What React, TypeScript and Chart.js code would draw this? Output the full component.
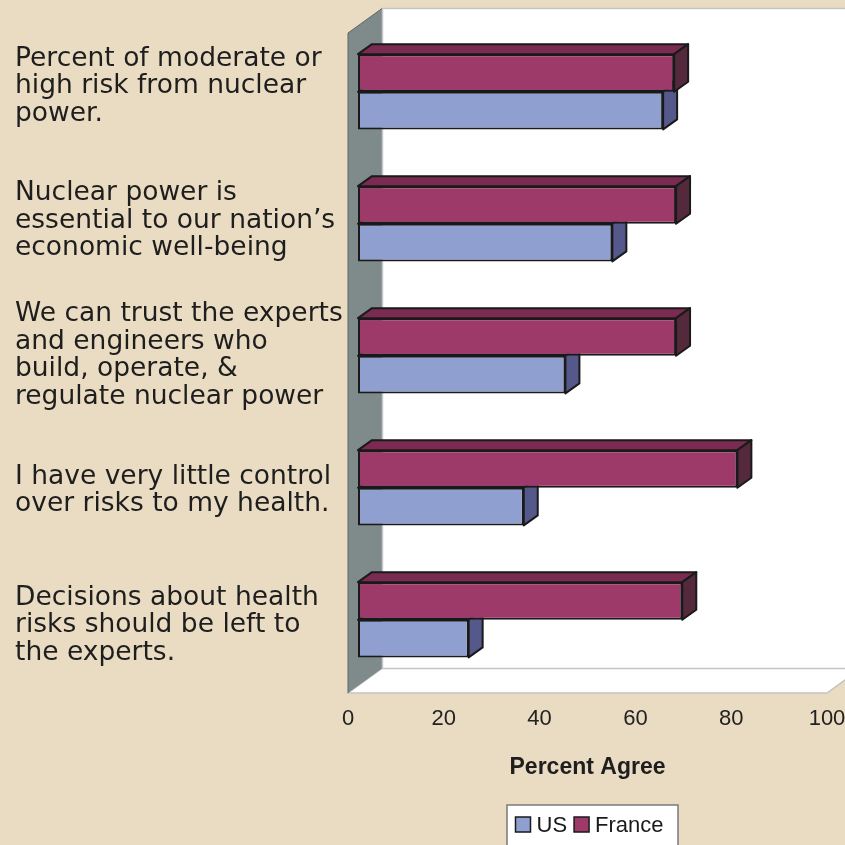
import { useEffect, useRef } from 'react';
import { Chart, registerables } from 'chart.js';

Chart.register(...registerables);

const categories: string[][] = [
  ['Percent of moderate or', 'high risk from nuclear', 'power.'],
  ['Nuclear power is', 'essential to our nation\u2019s', 'economic well-being'],
  ['We can trust the experts', 'and engineers who', 'build, operate, &', 'regulate nuclear power'],
  ['I have very little control', 'over risks to my health.'],
  ['Decisions about health', 'risks should be left to', 'the experts.'],
];
const usValues = [63.7, 53.1, 43.3, 34.6, 23.1];
const franceValues = [66.0, 66.4, 66.4, 79.2, 67.7];
const seriesNames = ['US', 'France'];
const xMin = 0;
const xMax = 100;
const xStep = 20;
const axisTitle = 'Percent Agree';
const labelAxisMin = -0.3947;
const labelAxisMax = 4.5013;

const US_FRONT = '#8F9FCF';
const US_TOP = '#6F7BB0';
const US_SIDE = '#55588A';
const FR_FRONT = '#9D3A69';
const FR_TOP = '#7B2B51';
const FR_SIDE = '#54293C';
const EDGE = '#1A1A1A';
const BG = '#EADCC2';

const DEPTH_X = 34;
const DEPTH_Y = -24.5;
const BAR_OFF_X = 10;
const BAR_OFF_Y = -7.2;
const BAR_DX = 14;
const BAR_DY = -10;

const threeD = {
  id: 'threeD',
  beforeDraw(chart: any) {
    const { ctx, chartArea: a, width, height } = chart;
    ctx.save();
    ctx.fillStyle = BG;
    ctx.fillRect(0, 0, width, height);
    // back wall
    ctx.fillStyle = '#FFFFFF';
    ctx.fillRect(a.left + DEPTH_X, a.top + DEPTH_Y, a.right - a.left + 10, a.bottom - a.top);
    ctx.strokeStyle = '#C4C4C4';
    ctx.lineWidth = 1.5;
    ctx.beginPath();
    ctx.moveTo(a.left + DEPTH_X, a.bottom + DEPTH_Y);
    ctx.lineTo(a.left + DEPTH_X, a.top + DEPTH_Y);
    ctx.lineTo(a.right + DEPTH_X + 10, a.top + DEPTH_Y);
    ctx.stroke();
    // floor
    ctx.beginPath();
    ctx.moveTo(a.left, a.bottom);
    ctx.lineTo(a.left + DEPTH_X, a.bottom + DEPTH_Y);
    ctx.lineTo(a.right + DEPTH_X, a.bottom + DEPTH_Y);
    ctx.lineTo(a.right, a.bottom);
    ctx.closePath();
    ctx.fillStyle = '#FFFFFF';
    ctx.fill();
    ctx.strokeStyle = '#C4C4C4';
    ctx.stroke();
    // left side wall
    ctx.beginPath();
    ctx.moveTo(a.left, a.top);
    ctx.lineTo(a.left + DEPTH_X, a.top + DEPTH_Y);
    ctx.lineTo(a.left + DEPTH_X, a.bottom + DEPTH_Y);
    ctx.lineTo(a.left, a.bottom);
    ctx.closePath();
    ctx.fillStyle = '#7F8A8A';
    ctx.fill();
    ctx.strokeStyle = '#5E6767';
    ctx.lineWidth = 1;
    ctx.beginPath();
    ctx.moveTo(a.left + DEPTH_X, a.top + DEPTH_Y);
    ctx.lineTo(a.left, a.top);
    ctx.lineTo(a.left, a.bottom);
    ctx.stroke();
    ctx.strokeStyle = '#C4C8C8';
    ctx.lineWidth = 1.5;
    ctx.beginPath();
    ctx.moveTo(a.left + DEPTH_X + 0.5, a.top + DEPTH_Y);
    ctx.lineTo(a.left + DEPTH_X + 0.5, a.bottom + DEPTH_Y);
    ctx.stroke();
    ctx.restore();
  },
  beforeDatasetsDraw(chart: any) {
    const ctx = chart.ctx;
    ctx.save();
    ctx.translate(BAR_OFF_X, BAR_OFF_Y);
    const order = [1, 0];
    order.forEach((di) => {
      const meta = chart.getDatasetMeta(di);
      const isUS = chart.data.datasets[di].label === 'US';
      const topC = isUS ? US_TOP : FR_TOP;
      const sideC = isUS ? US_SIDE : FR_SIDE;
      meta.data.forEach((el: any) => {
        const { x, y, base, height } = el.getProps(['x', 'y', 'base', 'height'], true);
        const t = y - height / 2;
        const b = y + height / 2;
        ctx.lineWidth = 2;
        ctx.strokeStyle = EDGE;
        ctx.lineJoin = 'round';
        ctx.beginPath();
        ctx.moveTo(base, t);
        ctx.lineTo(base + BAR_DX, t + BAR_DY);
        ctx.lineTo(x + BAR_DX, t + BAR_DY);
        ctx.lineTo(x, t);
        ctx.closePath();
        ctx.fillStyle = topC;
        ctx.fill();
        ctx.stroke();
        ctx.beginPath();
        ctx.moveTo(x, t);
        ctx.lineTo(x + BAR_DX, t + BAR_DY);
        ctx.lineTo(x + BAR_DX, b + BAR_DY);
        ctx.lineTo(x, b);
        ctx.closePath();
        ctx.fillStyle = sideC;
        ctx.fill();
        ctx.stroke();
      });
    });
  },
  afterDatasetsDraw(chart: any) {
    chart.ctx.restore();
  },
  afterDraw(chart: any) {
    const { ctx, chartArea: a } = chart;
    ctx.save();
    const left = a.left + 159;
    const top = a.bottom + 112;
    const w = 171;
    const h = 44;
    ctx.fillStyle = '#FFFFFF';
    ctx.fillRect(left, top, w, h);
    ctx.strokeStyle = '#7A7A7A';
    ctx.lineWidth = 1.5;
    ctx.strokeRect(left, top, w, h);
    ctx.font = '22px "Liberation Sans", Arial, sans-serif';
    ctx.textBaseline = 'middle';
    ctx.textAlign = 'left';
    let x = left + 8.5;
    const cy = top + 20;
    [1, 0].forEach((di) => {
      const ds = chart.data.datasets[di];
      ctx.fillStyle = ds.backgroundColor;
      ctx.fillRect(x, cy - 8, 15, 15);
      ctx.strokeStyle = EDGE;
      ctx.lineWidth = 1.5;
      ctx.strokeRect(x, cy - 8, 15, 15);
      x += 21;
      ctx.fillStyle = '#1A1A1A';
      ctx.fillText(ds.label, x, cy + 1);
      x += ctx.measureText(ds.label).width + 7;
    });
    ctx.restore();
  },
};

export default function App() {
  const ref = useRef<HTMLCanvasElement | null>(null);
  useEffect(() => {
    if (!ref.current) return;
    const chart = new Chart(ref.current, {
      type: 'bar',
      data: {
        labels: categories,
        datasets: [
          {
            label: seriesNames[1],
            data: franceValues,
            backgroundColor: FR_FRONT,
            borderColor: EDGE,
            borderWidth: 2,
            borderSkipped: false,
          },
          {
            label: seriesNames[0],
            data: usValues,
            backgroundColor: US_FRONT,
            borderColor: EDGE,
            borderWidth: 2,
            borderSkipped: false,
          },
        ],
      },
      options: {
        indexAxis: 'y',
        responsive: false,
        animation: false,
        devicePixelRatio: 1,
        layout: { padding: { left: 15, top: 33, right: 18, bottom: 0 } },
        datasets: { bar: { categoryPercentage: 0.57, barPercentage: 1 } },
        plugins: {
          legend: { display: false },
          tooltip: { enabled: false },
          title: { display: false },
        },
        scales: {
          y: {
            type: 'category',
            display: false,
          },
          yl: {
            type: 'linear',
            position: 'left',
            reverse: true,
            offset: false,
            bounds: 'data',
            min: labelAxisMin,
            max: labelAxisMax,
            grid: { display: false, drawTicks: false, offset: false },
            border: { display: false },
            afterBuildTicks(s: any) {
              s.ticks = categories.map((_, i) => ({ value: i }));
              s.min = labelAxisMin;
              s.max = labelAxisMax;
            },
            ticks: {
              autoSkip: false,
              crossAlign: 'far',
              padding: 0,
              color: '#1E1E1E',
              font: { family: '"DejaVu Sans", Verdana, sans-serif', size: 26.5, lineHeight: 1.04 },
              callback: (_v: any, i: number) => categories[i],
            },
            afterFit(s: any) {
              s.width = 333;
              s.paddingTop = 0;
              s.paddingBottom = 0;
            },
          },
          x: {
            type: 'linear',
            position: 'bottom',
            min: xMin,
            max: xMax,
            grid: { display: false, drawTicks: false },
            border: { display: false },
            ticks: {
              stepSize: xStep,
              padding: 13,
              color: '#222222',
              font: { family: '"Liberation Sans", Arial, sans-serif', size: 22 },
            },
            title: {
              display: true,
              text: axisTitle,
              color: '#1E1E1E',
              font: { family: '"Liberation Sans", Arial, sans-serif', size: 23, weight: 'bold' },
              padding: { top: 0, bottom: 64 },
            },
            afterFit(s: any) {
              s.height = 152;
              s.paddingLeft = 0;
              s.paddingRight = 0;
            },
          },
        },
      } as any,
      plugins: [threeD],
    });
    return () => chart.destroy();
  }, []);
  return (
    <div style={{ position: 'absolute', left: 0, top: 0, width: 845, height: 845, overflow: 'hidden' }}>
      <canvas ref={ref} width={845} height={845} style={{ display: 'block' }} />
    </div>
  );
}
